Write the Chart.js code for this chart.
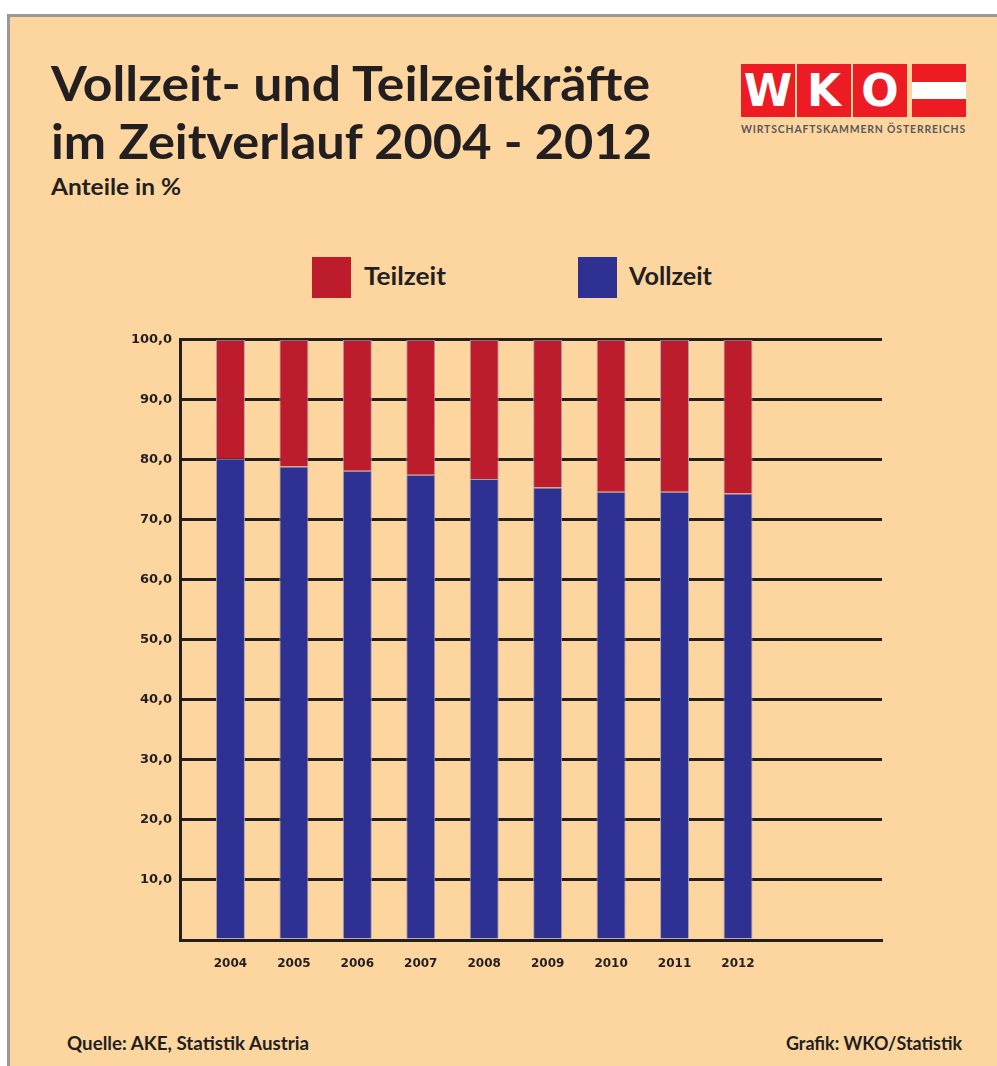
<!DOCTYPE html>
<html>
<head>
<meta charset="utf-8">
<script src="https://cdn.jsdelivr.net/npm/chart.js@4"></script>
<style>
  html, body { margin: 0; padding: 0; background: #fff; }
  #page { position: relative; width: 997px; height: 1066px; overflow: hidden; }
  #frame {
    position: absolute; left: 7px; top: 14px; right: -10px; bottom: -10px;
    background: #FDD59F; border-left: 3px solid #999; border-top: 3px solid #999;
  }
  .txt {
    position: absolute; white-space: nowrap; font-family: Lato, "Open Sans", sans-serif;
    font-weight: bold; color: #231F20; line-height: 1; transform-origin: left top;
  }
  .box { position: absolute; background: #ED1C24; }
  .letter {
    position: absolute; top: 0; left: 0; right: 0; text-align: center; color: #fff;
    font-family: "DejaVu Sans", sans-serif; font-weight: bold; font-size: 44px; line-height: 53px;
  }
  .swatch { position: absolute; width: 39px; height: 41px; top: 257px; }
  #chartBox { position: absolute; left: 0; top: 324px; width: 997px; height: 676px; }
</style>
</head>
<body>
<div id="page">
  <div id="frame"></div>

  <div class="txt" data-w="599" style="left:51px; top:59px; font-size:48px;">Vollzeit- und Teilzeitkräfte</div>
  <div class="txt" data-w="601" style="left:51px; top:117px; font-size:48px;">im Zeitverlauf 2004 - 2012</div>
  <div class="txt" data-w="130" style="left:51px; top:176px; font-size:22px;">Anteile in %</div>

  <!-- logo -->
  <div class="box" style="left:741px; top:64px; width:54px; height:53px;"><div class="letter">W</div></div>
  <div class="box" style="left:797px; top:64px; width:54px; height:53px;"><div class="letter">K</div></div>
  <div class="box" style="left:853px; top:64px; width:54px; height:53px;"><div class="letter">O</div></div>
  <div class="box" style="left:912px; top:64px; width:54px; height:53px;">
    <div style="position:absolute; left:0; right:0; top:18px; height:17px; background:#fff;"></div>
  </div>
  <div class="txt" data-w="225" style="left:741px; top:123px; font-size:12px; color:#58585A; letter-spacing:1px;">WIRTSCHAFTSKAMMERN ÖSTERREICHS</div>

  <!-- legend -->
  <div class="swatch" style="left:312px; background:#BC1C2C;"></div>
  <div class="txt" data-w="82" style="left:364px; top:263px; font-size:25px;">Teilzeit</div>
  <div class="swatch" style="left:578px; background:#2E3192;"></div>
  <div class="txt" data-w="83" style="left:629px; top:263px; font-size:25px;">Vollzeit</div>

  <div id="chartBox"><canvas id="chart"></canvas></div>

  <div class="txt" data-w="242" style="left:67px; top:1034px; font-size:18px;">Quelle: AKE, Statistik Austria</div>
  <div class="txt" data-w="176" style="left:786px; top:1034px; font-size:18px;">Grafik: WKO/Statistik</div>
</div>

<script>
// data
const years = ["2004", "2005", "2006", "2007", "2008", "2009", "2010", "2011", "2012"];
const vollzeit = [80.2, 78.9, 78.2, 77.5, 76.8, 75.4, 74.7, 74.7, 74.4];
const teilzeit = [19.8, 21.1, 21.8, 22.5, 23.2, 24.6, 25.3, 25.3, 25.6];
const yTicks = [10, 20, 30, 40, 50, 60, 70, 80, 90, 100];

function fitText() {
    document.querySelectorAll(".txt[data-w]").forEach((el) => {
        el.style.transform = "none";
        const w = el.getBoundingClientRect().width;
        const target = parseFloat(el.dataset.w);
        el.style.transform = "scaleX(" + (target / w) + ")";
    });
}
fitText();
if (document.fonts) document.fonts.ready.then(fitText);

const ink = "#231F20";
const toPoints = (arr) => arr.map((v, i) => ({ x: i, y: v }));

new Chart(document.getElementById("chart"), {
    type: "bar",
    data: {
        datasets: [
            {
                label: "Vollzeit",
                data: toPoints(vollzeit),
                backgroundColor: "#2E3192",
                borderColor: "#A3A3B0",
                borderWidth: 1,
            },
            {
                label: "Teilzeit",
                data: toPoints(teilzeit),
                backgroundColor: "#BC1C2C",
                borderColor: "#A3A3B0",
                borderWidth: 1,
            },
        ],
    },
    options: {
        responsive: true,
        maintainAspectRatio: false,
        animation: false,
        layout: { padding: { top: 4, right: 115, bottom: 0, left: 0 } },
        datasets: { bar: { categoryPercentage: 1, barPercentage: 0.457 } },
        plugins: { legend: { display: false }, tooltip: { enabled: false } },
        scales: {
            x: {
                type: "linear",
                stacked: true,
                offset: false,
                min: -0.795,
                max: 10.27,
                afterFit: (scale) => { scale.height = 60; },
                grid: { color: "rgba(0,0,0,0)", drawTicks: false },
                border: { display: true, color: ink, width: 3 },
                ticks: {
                    stepSize: 1,
                    includeBounds: false,
                    autoSkip: false,
                    maxRotation: 0,
                    padding: 17,
                    color: ink,
                    font: { family: "DejaVu Sans", weight: "bold", size: 12 },
                    callback: (v) => (Number.isInteger(v) && years[v]) ? years[v] : "",
                },
            },
            y: {
                stacked: true,
                min: 0,
                max: 100,
                afterFit: (scale) => { scale.width = 180; },
                grid: { color: ink, lineWidth: 3, drawTicks: false },
                border: { display: true, color: ink, width: 3 },
                ticks: {
                    stepSize: 10,
                    padding: 8,
                    color: ink,
                    font: { family: "DejaVu Sans", weight: "bold", size: 13 },
                    callback: (v) => yTicks.includes(v) ? v.toFixed(1).replace(".", ",") : "",
                },
            },
        },
    },
});
</script>
</body>
</html>
